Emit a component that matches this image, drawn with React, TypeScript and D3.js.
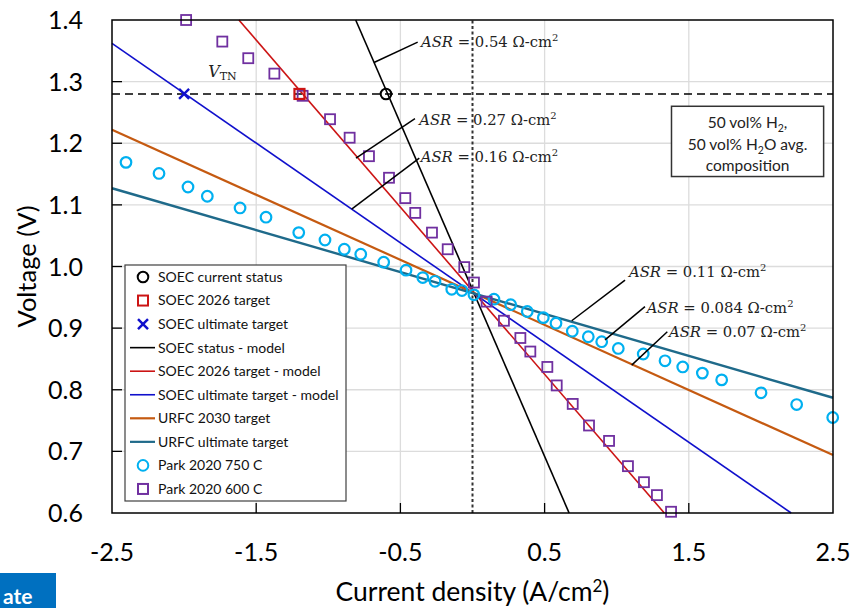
import React from 'react';
import * as d3 from 'd3';

const W = 856;
const H = 608;
const M = { left: 112, top: 20, right: 23, bottom: 95 };

const currentDomain = [-2.5, 2.5];
const voltageDomain = [0.6, 1.4];
const currentTicks = [-2.5, -1.5, -0.5, 0.5, 1.5, 2.5];
const currentGrid = [-1.5, -0.5, 0.5, 1.5];
const voltageTicks = [0.6, 0.7, 0.8, 0.9, 1.0, 1.1, 1.2, 1.3, 1.4];
const voltageGrid = [0.7, 0.8, 0.9, 1.0, 1.1, 1.2, 1.3];

const vTN = 1.28;

// targets at thermoneutral voltage
const statusCurrent = [-0.6];
const target2026Current = [-1.2];
const ultimateCurrent = [-2.0];

// model lines (endpoints)
const modelNames = ['SOEC status - model', 'SOEC 2026 target - model', 'SOEC ultimate target - model', 'URFC 2030 target', 'URFC ultimate target'];
const modelColors = ['#000000', '#CC1414', '#1010CC', '#C55A11', '#1F6A8A'];
const modelWidths = [1.6, 1.6, 1.6, 2.2, 2.4];
const modelCurrents = [[-0.81, 0.67], [-1.62, 1.33], [-2.5, 2.21], [-2.5, 2.5], [-2.5, 2.5]];
const modelVoltages = [[1.4, 0.6], [1.4, 0.6], [1.362, 0.6], [1.222, 0.694], [1.127, 0.787]];

// Park 2020 750 C
const park750Current = [-2.403, -2.174, -1.973, -1.839, -1.612, -1.432, -1.205, -1.023, -0.889, -0.775, -0.616, -0.461, -0.345, -0.26, -0.144, -0.073, 0.01, 0.149, 0.265, 0.38, 0.491, 0.579, 0.692, 0.803, 0.896, 1.011, 1.184, 1.335, 1.458, 1.594, 1.728, 2.001, 2.248, 2.498];
const park750Voltage = [1.169, 1.151, 1.129, 1.114, 1.095, 1.08, 1.055, 1.043, 1.028, 1.02, 1.007, 0.994, 0.982, 0.976, 0.963, 0.961, 0.954, 0.947, 0.938, 0.927, 0.917, 0.908, 0.895, 0.886, 0.878, 0.867, 0.858, 0.847, 0.837, 0.827, 0.816, 0.795, 0.776, 0.755];

// Park 2020 600 C
const park600Current = [-1.986, -1.735, -1.555, -1.374, -1.178, -0.988, -0.852, -0.718, -0.579, -0.466, -0.397, -0.281, -0.172, -0.057, 0.01, 0.098, 0.218, 0.332, 0.401, 0.519, 0.584, 0.695, 0.808, 0.947, 1.078, 1.189, 1.279, 1.377];
const park600Voltage = [1.4, 1.365, 1.338, 1.313, 1.277, 1.239, 1.209, 1.179, 1.144, 1.111, 1.087, 1.055, 1.028, 0.999, 0.974, 0.943, 0.912, 0.884, 0.862, 0.837, 0.807, 0.777, 0.742, 0.717, 0.676, 0.65, 0.629, 0.602];

// ASR annotations
const asrValues = ['0.54', '0.27', '0.16', '0.11', '0.084', '0.07'];
const asrTextPos = [[-0.357, 1.356], [-0.369, 1.23], [-0.359, 1.17], [1.085, 0.983], [1.208, 0.925], [1.363, 0.886]];
const asrLeaderFrom = [[-0.38, 1.364], [-0.399, 1.24], [-0.369, 1.176], [1.058, 0.978], [1.196, 0.935], [1.351, 0.894]];
const asrLeaderTo = [[-0.683, 1.331], [-0.808, 1.176], [-0.838, 1.093], [0.688, 0.912], [0.919, 0.881], [1.104, 0.84]];

const legendLabels = ['SOEC current status', 'SOEC 2026 target', 'SOEC ultimate target', 'SOEC status - model', 'SOEC 2026 target - model', 'SOEC ultimate target - model', 'URFC 2030 target', 'URFC ultimate target', 'Park 2020 750 C', 'Park 2020 600 C'];
const legendKinds = ['circle', 'square', 'x', 'line', 'line', 'line', 'line', 'line', 'circle', 'square'];
const legendColors = ['#000000', '#CC1414', '#1010CC', '#000000', '#CC1414', '#1010CC', '#C55A11', '#1F6A8A', '#00B0F0', '#7030A0'];

const SANS = 'Lato, "Open Sans", sans-serif';
const SERIF = '"DejaVu Serif", "Liberation Serif", serif';

export default function App() {
  const x = d3.scaleLinear().domain(currentDomain).range([M.left, W - M.right]);
  const y = d3.scaleLinear().domain(voltageDomain).range([H - M.bottom, M.top]);
  const line = d3.line<[number, number]>().x(d => x(d[0])).y(d => y(d[1]));
  const x0 = x(currentDomain[0]);
  const x1 = x(currentDomain[1]);
  const y0 = y(voltageDomain[0]);
  const y1 = y(voltageDomain[1]);

  const marker = (kind: string, cx: number, cy: number, color: string, key: any, sw = 2) => {
    if (kind === 'circle') return <circle key={key} cx={cx} cy={cy} r={5.3} fill="none" stroke={color} strokeWidth={sw} />;
    if (kind === 'square') return <rect key={key} x={cx - 5} y={cy - 5} width={10} height={10} fill="none" stroke={color} strokeWidth={sw} />;
    if (kind === 'x') return (
      <g key={key} stroke={color} strokeWidth={2.4}>
        <line x1={cx - 5} y1={cy - 5} x2={cx + 5} y2={cy + 5} />
        <line x1={cx - 5} y1={cy + 5} x2={cx + 5} y2={cy - 5} />
      </g>
    );
    return null;
  };

  const legendX = 125, legendY = 265, legendW = 221, legendH = 236;
  const boxL = x(1.38), boxR = x(2.435), boxT = y(1.26), boxB = y(1.146);
  const boxC = (boxL + boxR) / 2;

  return (
    <svg width={W} height={H} style={{ position: 'absolute', left: 0, top: 0, background: '#fff' }}>
      <rect x={0} y={0} width={W} height={H} fill="#fff" />
      {/* grid */}
      {currentGrid.map(c => (
        <line key={'gx' + c} x1={x(c)} x2={x(c)} y1={y0} y2={y1} stroke="#DCDCDC" strokeWidth={1.3} />
      ))}
      {voltageGrid.map(v => (
        <line key={'gy' + v} x1={x0} x2={x1} y1={y(v)} y2={y(v)} stroke="#DCDCDC" strokeWidth={1.3} />
      ))}
      {/* ticks (inward) */}
      {currentGrid.map(c => (
        <line key={'tx' + c} x1={x(c)} x2={x(c)} y1={y0} y2={y0 - 10} stroke="#000" strokeWidth={1.3} />
      ))}
      {voltageGrid.map(v => (
        <line key={'ty' + v} x1={x0} x2={x0 + 10} y1={y(v)} y2={y(v)} stroke="#000" strokeWidth={1.3} />
      ))}
      {/* zero current dotted line */}
      <line x1={x(0)} x2={x(0)} y1={y0} y2={y1} stroke="#333" strokeWidth={2} strokeDasharray="3,2.5" />
      {/* thermoneutral voltage dashed */}
      <line x1={x0} x2={x1} y1={y(vTN)} y2={y(vTN)} stroke="#000" strokeWidth={1.6} strokeDasharray="8,5" />

      {/* model lines */}
      {modelNames.map((n, k) => (
        <path key={n} d={line(modelCurrents[k].map((c, j) => [c, modelVoltages[k][j]] as [number, number])) || ''} fill="none" stroke={modelColors[k]} strokeWidth={modelWidths[k]} />
      ))}

      {/* Park data */}
      {park750Current.map((c, k) => marker('circle', x(c), y(park750Voltage[k]), '#00B0F0', 'p750' + k, 2.2))}
      {park600Current.map((c, k) => marker('square', x(c), y(park600Voltage[k]), '#7030A0', 'p600' + k, 1.8))}

      {/* targets */}
      {statusCurrent.map((c, k) => marker('circle', x(c), y(vTN), '#000', 'st' + k, 2))}
      {target2026Current.map((c, k) => marker('square', x(c), y(vTN), '#CC1414', 't26' + k, 2.2))}
      {ultimateCurrent.map((c, k) => marker('x', x(c), y(vTN), '#1010CC', 'ult' + k))}

      {/* ASR annotations */}
      {asrValues.map((v, k) => (
        <g key={'asr' + k}>
          <line x1={x(asrLeaderFrom[k][0])} y1={y(asrLeaderFrom[k][1])} x2={x(asrLeaderTo[k][0])} y2={y(asrLeaderTo[k][1])} stroke="#000" strokeWidth={1.5} />
          <text x={x(asrTextPos[k][0])} y={y(asrTextPos[k][1])} fontFamily={SERIF} fontSize={14.8} fill="#222">
            <tspan fontStyle="italic">ASR</tspan>
            <tspan> = {v} Ω-cm</tspan>
            <tspan dy={-6} fontSize={10}>2</tspan>
          </text>
        </g>
      ))}

      {/* V_TN label */}
      <text x={x(-1.833)} y={y(1.3075)} fontFamily={SERIF} fontSize={16} fill="#222">
        <tspan fontStyle="italic">V</tspan>
        <tspan dy={3} fontSize={11}>TN</tspan>
      </text>

      {/* composition box */}
      <rect x={boxL} y={boxT} width={boxR - boxL} height={boxB - boxT} fill="#fff" stroke="#333" strokeWidth={1.5} />
      <text x={boxC} y={boxT + 22} textAnchor="middle" fontFamily={SANS} fontSize={15.5} fill="#222">
        50 vol% H<tspan dy={4} fontSize={10.5}>2</tspan><tspan dy={-4}>,</tspan>
      </text>
      <text x={boxC} y={boxT + 43.5} textAnchor="middle" fontFamily={SANS} fontSize={15.5} fill="#222">
        50 vol% H<tspan dy={4} fontSize={10.5}>2</tspan><tspan dy={-4}>O avg.</tspan>
      </text>
      <text x={boxC} y={boxT + 65} textAnchor="middle" fontFamily={SANS} fontSize={15.5} fill="#222">
        composition
      </text>

      {/* legend */}
      <rect x={legendX} y={legendY} width={legendW} height={legendH} fill="#fff" stroke="#404040" strokeWidth={1.2} />
      {legendLabels.map((lab, k) => {
        const cy = legendY + 12 + k * 23.55;
        const col = legendColors[k];
        const kind = legendKinds[k];
        return (
          <g key={'lg' + k}>
            {kind === 'line'
              ? <line x1={legendX + 5} x2={legendX + 30} y1={cy} y2={cy} stroke={col} strokeWidth={k >= 6 ? 2.2 : 1.6} />
              : marker(kind, legendX + 18, cy, col, 'lm' + k, 2)}
            <text x={legendX + 33} y={cy} dy="0.35em" fontFamily={SANS} fontSize={14} fill="#111">{lab}</text>
          </g>
        );
      })}

      {/* frame */}
      <rect x={x0} y={y1} width={x1 - x0} height={y0 - y1} fill="none" stroke="#000" strokeWidth={1.5} />

      {/* tick labels */}
      {voltageTicks.map(v => (
        <text key={'yl' + v} x={x0 - 29} y={y(v)} dy="0.36em" textAnchor="end" fontFamily={SANS} fontSize={25} fill="#000">{d3.format('.1f')(v)}</text>
      ))}
      {currentTicks.map(c => (
        <text key={'xl' + c} x={x(c)} y={y0 + 48} textAnchor="middle" fontFamily={SANS} fontSize={25} fill="#000">{d3.format('.1f')(c).replace('−', '-')}</text>
      ))}

      {/* axis titles */}
      <text x={x(0)} y={601} textAnchor="middle" fontFamily={SANS} fontSize={26.5} fill="#000">
        Current density (A/cm<tspan dy={-9} fontSize={17}>2</tspan><tspan dy={9}>)</tspan>
      </text>
      <text transform={`translate(36, ${(y0 + y1) / 2}) rotate(-90)`} textAnchor="middle" fontFamily={SANS} fontSize={25.5} fill="#000">Voltage (V)</text>

      {/* cropped badge */}
      <rect x={0} y={573} width={56} height={35} fill="#0070C0" />
      <text x={3} y={604} fontFamily={SANS} fontSize={21} fontWeight="bold" fill="#fff">ate</text>
    </svg>
  );
}
